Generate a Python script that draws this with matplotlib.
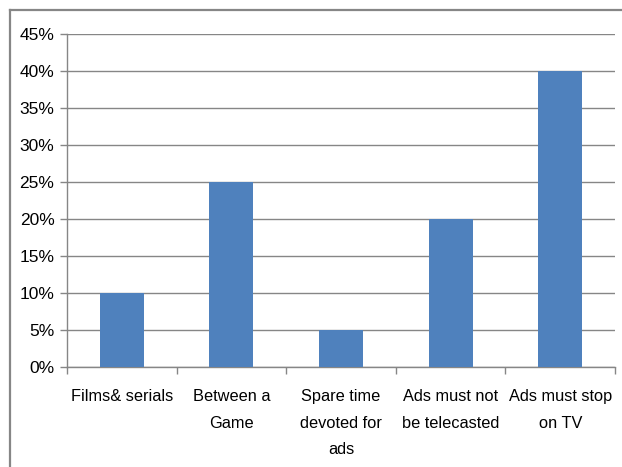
import numpy as np
import matplotlib.pyplot as plt
from matplotlib.lines import Line2D
from matplotlib.ticker import FixedLocator, PercentFormatter

plt.rcParams['font.family'] = ['Liberation Sans Narrow', 'Liberation Sans', 'DejaVu Sans']

categories = ['Films& serials', 'Between a\nGame', 'Spare time\ndevoted for\nads',
              'Ads must not\nbe telecasted', 'Ads must stop\non TV']
values = [10, 25, 5, 20, 40]
y_ticks = np.arange(0, 50, 5)

bar_color = '#4F81BD'
line_gray = '#868686'

fig = plt.figure(figsize=(6.22, 4.67), dpi=100)
ax = fig.add_axes([67 / 622, 1 - 367 / 467, 548 / 622, 333 / 467])

x = np.arange(len(categories))
ax.bar(x, values, width=0.4, color=bar_color, zorder=3)

ax.set_xlim(-0.5, len(categories) - 0.5)
ax.set_ylim(0, 45)
ax.set_yticks(y_ticks)
ax.yaxis.set_major_formatter(PercentFormatter(decimals=0))
ax.grid(axis='y', color=line_gray, linewidth=1, zorder=0)

# category labels centred, tick marks on the boundaries
ax.set_xticks(x)
ax.set_xticklabels(categories, linespacing=1.95, va='top')
ax.tick_params(axis='x', which='major', length=0, pad=16, labelsize=11.8)
ax.xaxis.set_minor_locator(FixedLocator(np.arange(len(categories) + 1) - 0.5))
ax.tick_params(axis='x', which='minor', length=5, color=line_gray, width=1)
ax.tick_params(axis='y', length=5, color=line_gray, width=1, labelsize=12.5, pad=4)

for side in ['top', 'right']:
    ax.spines[side].set_visible(False)
for side in ['left', 'bottom']:
    ax.spines[side].set_color(line_gray)
    ax.spines[side].set_linewidth(1)

# outer chart frame
fx, fy = 10 / 622, 1 - 10 / 467
fig.add_artist(Line2D([fx, 1.0], [fy, fy], transform=fig.transFigure, color=line_gray, linewidth=1.6))
fig.add_artist(Line2D([fx, fx], [0, fy], transform=fig.transFigure, color=line_gray, linewidth=1.6))

fig.savefig('out.png', dpi=100)
